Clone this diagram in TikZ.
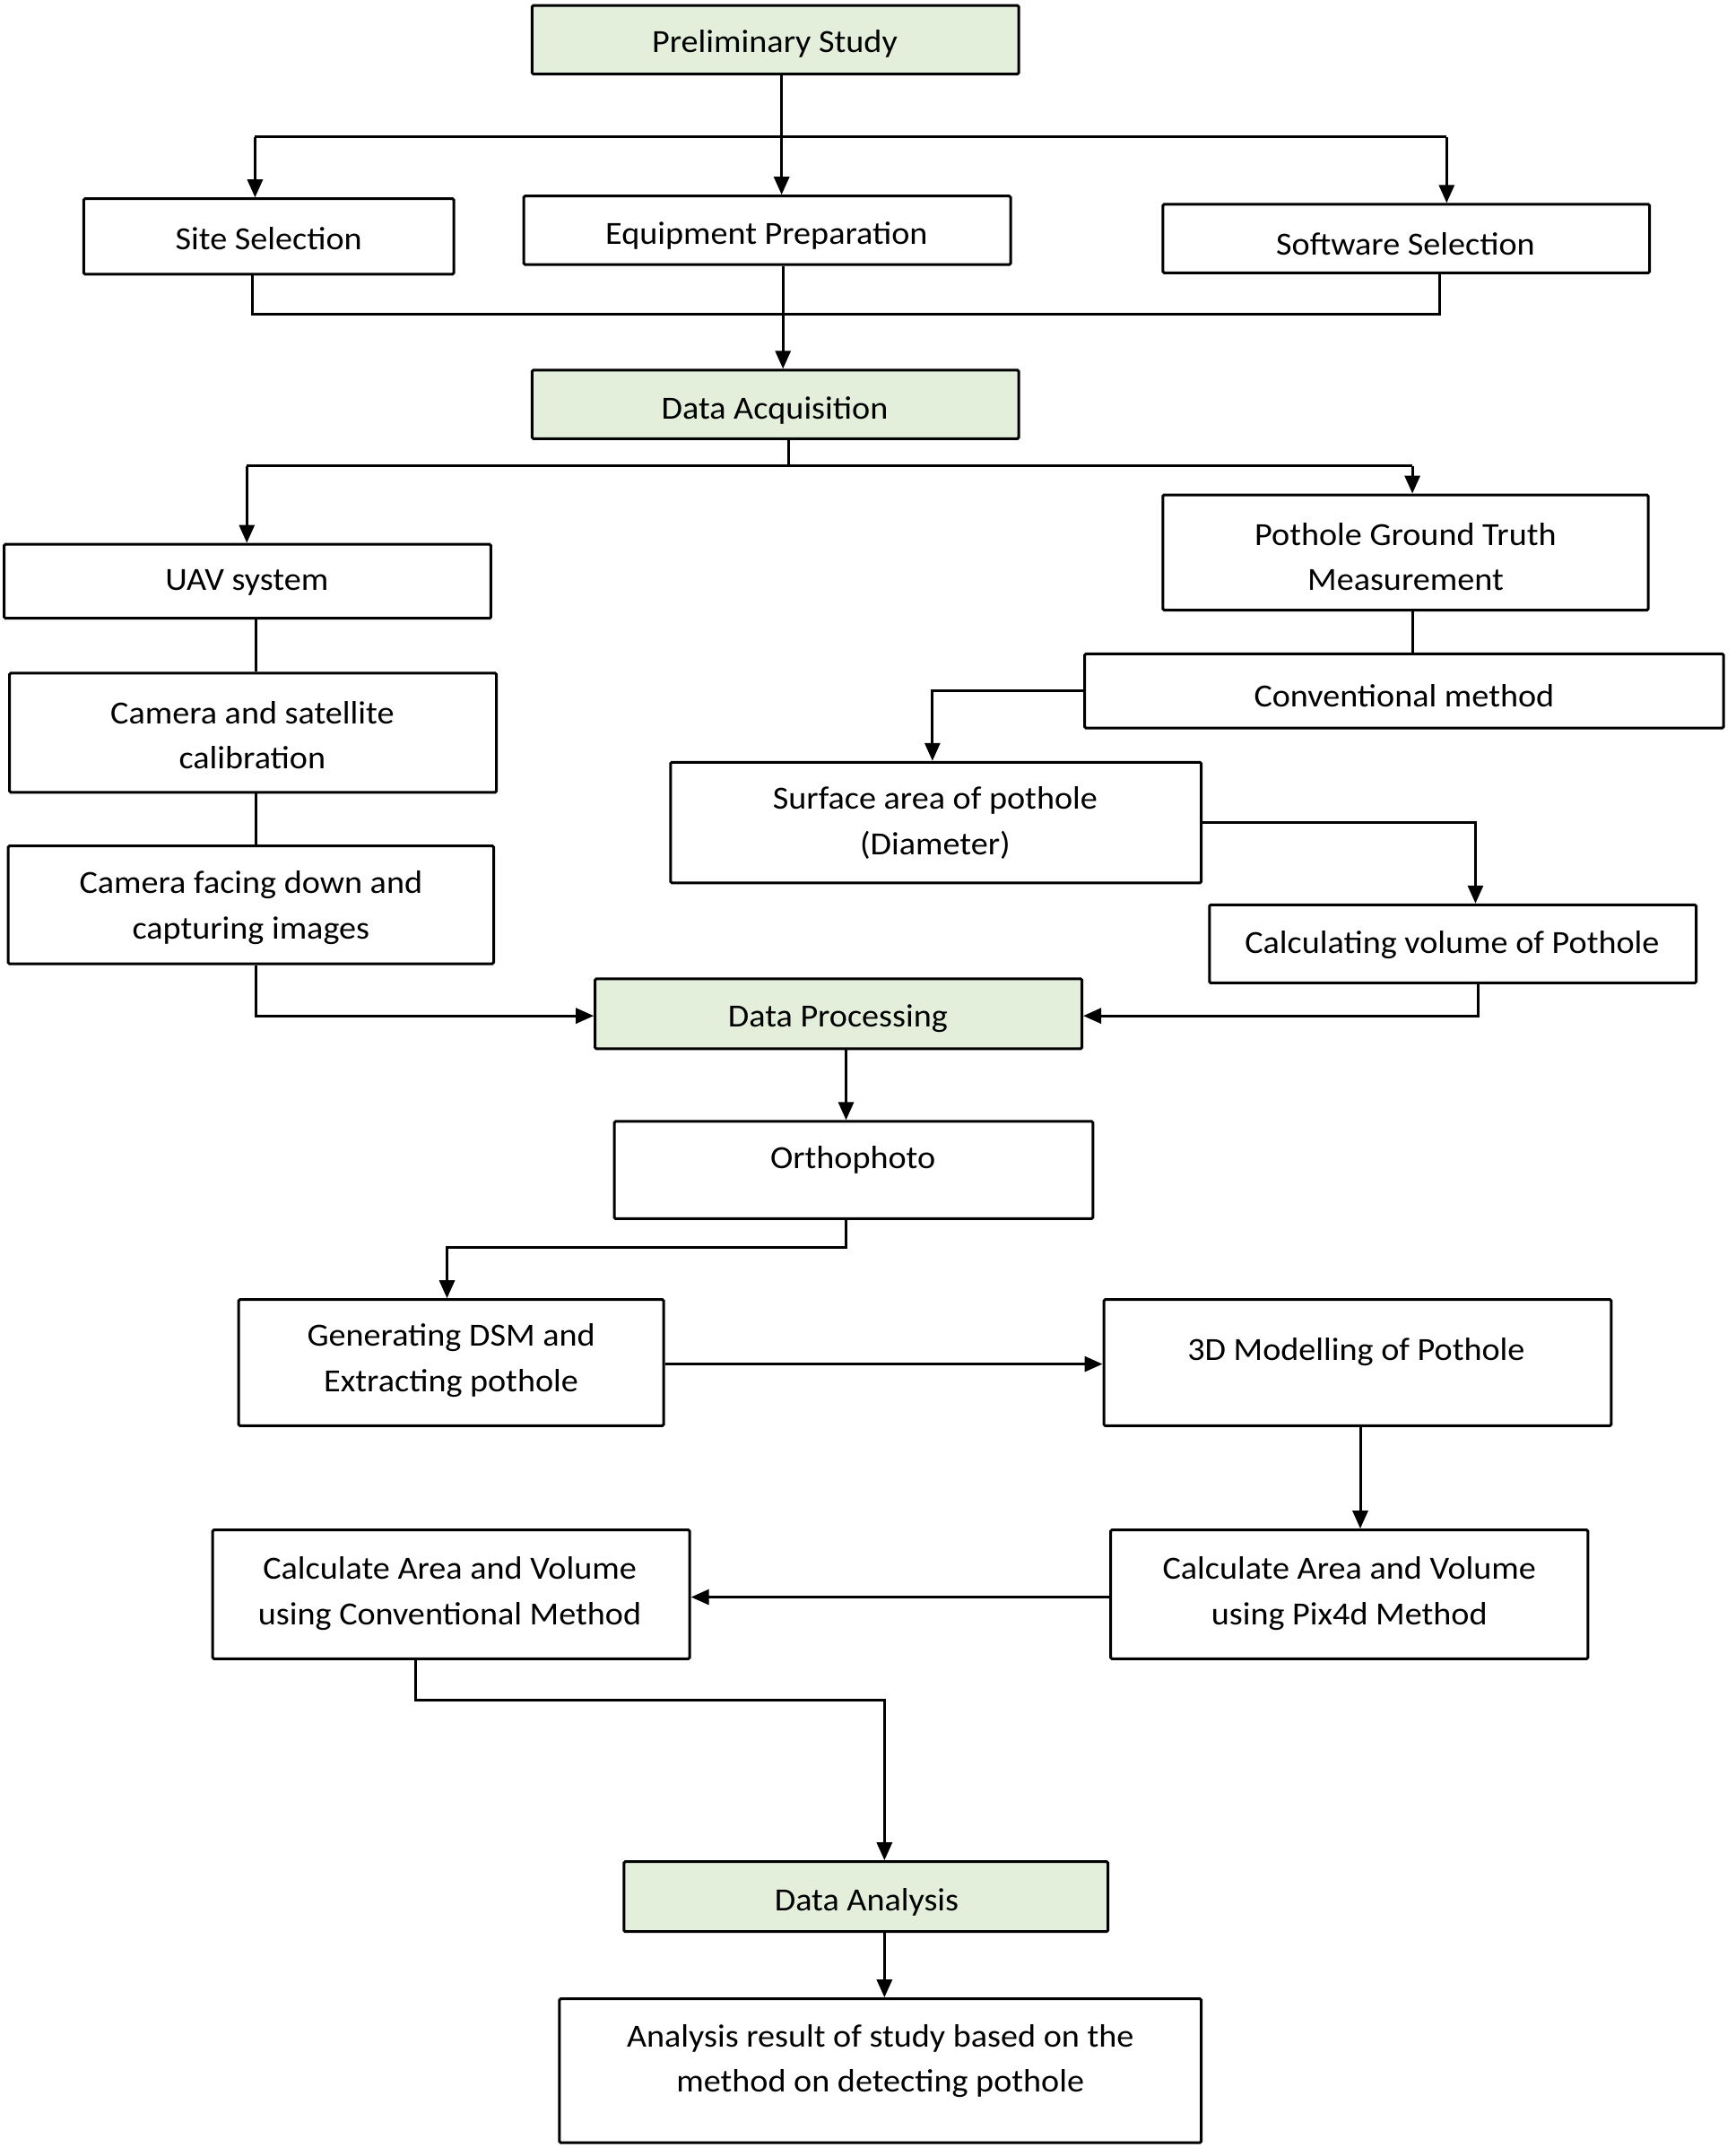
\documentclass[tikz,border=0pt]{standalone}
\usepackage{fontspec}
\setmainfont{Carlito}[FakeStretch=1.06]
\usetikzlibrary{arrows.meta,fit}
\definecolor{boxgreen}{HTML}{E3EFDA}
\tikzset{
  box/.style={draw=black, line width=3pt, rounded corners=1.5pt, inner sep=0pt},
  gbox/.style={box, fill=boxgreen},
  lbl/.style={align=center, inner sep=0pt, yshift=-5pt, font=\fontsize{36}{50.5}\selectfont},
  conn/.style={line width=3pt},
  arr/.style={conn, -{Triangle[length=20pt,width=17pt]}}
}
\begin{document}
\begin{tikzpicture}[x=1.5292pt, y=-1.5292pt]
\useasboundingbox (0,0) rectangle (1266,1572.7);
\fill[white] (0,0) rectangle (1266,1572.7);
% boxes
\node[gbox, fit={(388,4) (743,54)}] (ps) {};
\node[lbl] (psT) at (565,29) {Preliminary Study};
\node[box, fit={(61,145) (331,200)}] (ss) {};
\node[lbl] (ssT) at (196,171) {Site Selection};
\node[box, fit={(382,143) (737,193)}] (ep) {};
\node[lbl] (epT) at (559,169) {Equipment Preparation};
\node[box, fit={(848,149) (1203,199)}] (sw) {};
\node[lbl] (swT) at (1025,175) {Software Selection};
\node[gbox, fit={(388,270) (743,320)}] (da) {};
\node[lbl] (daT) at (565,296) {Data Acquisition};
\node[box, fit={(3,397) (358,451)}] (uav) {};
\node[lbl] (uavT) at (180,422) {UAV system};
\node[box, fit={(848,361) (1202,445)}] (pgt) {};
\node[lbl] (pgtT) at (1025,403) {Pothole Ground Truth\\Measurement};
\node[box, fit={(7,491) (362,578)}] (cal) {};
\node[lbl] (calT) at (184,533) {Camera and satellite\\calibration};
\node[box, fit={(791,477) (1257,531)}] (cm) {};
\node[lbl] (cmT) at (1024,504) {Conventional method};
\node[box, fit={(489,556) (876,644)}] (sa) {};
\node[lbl] (saT) at (682,597) {Surface area of pothole\\(Diameter)};
\node[box, fit={(6,617) (360,703)}] (cf) {};
\node[lbl] (cfT) at (183,659) {Camera facing down and\\capturing images};
\node[box, fit={(882,660) (1237,717)}] (cv) {};
\node[lbl] (cvT) at (1059,686) {Calculating volume of Pothole};
\node[gbox, fit={(434,714) (789,765)}] (dp) {};
\node[lbl] (dpT) at (611,740) {Data Processing};
\node[box, fit={(448,818) (797,889)}] (or) {};
\node[lbl] (orT) at (622,843) {Orthophoto};
\node[box, fit={(174,948) (484,1040)}] (dsm) {};
\node[lbl] (dsmT) at (329,989) {Generating DSM and\\Extracting pothole};
\node[box, fit={(805,948) (1175,1040)}] (m3d) {};
\node[lbl] (m3dT) at (989,983) {3D Modelling of Pothole};
\node[box, fit={(155,1116) (503,1210)}] (ccm) {};
\node[lbl] (ccmT) at (328,1159) {Calculate Area and Volume\\using Conventional Method};
\node[box, fit={(810,1116) (1158,1210)}] (cpm) {};
\node[lbl] (cpmT) at (984,1159) {Calculate Area and Volume\\using Pix4d Method};
\node[gbox, fit={(455,1358) (808,1409)}] (dan) {};
\node[lbl] (danT) at (632,1384) {Data Analysis};
\node[box, fit={(408,1458) (876,1563)}] (ar) {};
\node[lbl] (arT) at (642,1500) {Analysis result of study based on the\\method on detecting pothole};
% junction coordinates
\coordinate (c1) at (186,100);
\coordinate (c2) at (1055,100);
\coordinate (j1) at (184,229);
\coordinate (j2) at (1050,229);
\coordinate (d1) at (180,340);
\coordinate (d2) at (1030,340);
\coordinate (e1) at (680,504);
\coordinate (f1) at (1076,600);
\coordinate (g1) at (1078,741);
\coordinate (h1) at (187,741);
\coordinate (k1) at (617,910);
\coordinate (k2) at (326,910);
\coordinate (m1) at (303,1240);
\coordinate (m2) at (645,1240);
% connectors
\draw[arr] (ps.south -| 570,0) -- (ep.north -| 570,0);
\draw[conn] (c1) -- (c2);
\draw[arr] (c1) -- (ss.north -| c1);
\draw[arr] (c2) -- (sw.north -| c2);
\draw[conn] (ss.south -| j1) -- (j1) -- (j2) -- (sw.south -| j2);
\draw[arr] (ep.south -| 571,0) -- (da.north -| 571,0);
\draw[conn] (da.south -| 575,0) -- (575,340);
\draw[conn] (d1) -- (d2);
\draw[arr] (d1) -- (uav.north -| d1);
\draw[arr] (d2) -- (pgt.north -| d2);
\draw[conn] (uav.south -| 187,0) -- (cal.north -| 187,0);
\draw[conn] (cal.south -| 187,0) -- (cf.north -| 187,0);
\draw[conn] (pgt.south -| 1030,0) -- (cm.north -| 1030,0);
\draw[arr] (cm.west |- e1) -- (e1) -- (sa.north -| e1);
\draw[arr] (sa.east |- f1) -- (f1) -- (cv.north -| f1);
\draw[arr] (cv.south -| g1) -- (g1) -- (dp.east |- g1);
\draw[arr] (cf.south -| h1) -- (h1) -- (dp.west |- h1);
\draw[arr] (dp.south -| 617,0) -- (or.north -| 617,0);
\draw[arr] (or.south -| k1) -- (k1) -- (k2) -- (dsm.north -| k2);
\draw[arr] (dsm.east |- 0,995) -- (m3d.west |- 0,995);
\draw[arr] (m3d.south -| 992,0) -- (cpm.north -| 992,0);
\draw[arr] (cpm.west |- 0,1165) -- (ccm.east |- 0,1165);
\draw[arr] (ccm.south -| m1) -- (m1) -- (m2) -- (dan.north -| m2);
\draw[arr] (dan.south -| 645,0) -- (ar.north -| 645,0);
\end{tikzpicture}
\end{document}
